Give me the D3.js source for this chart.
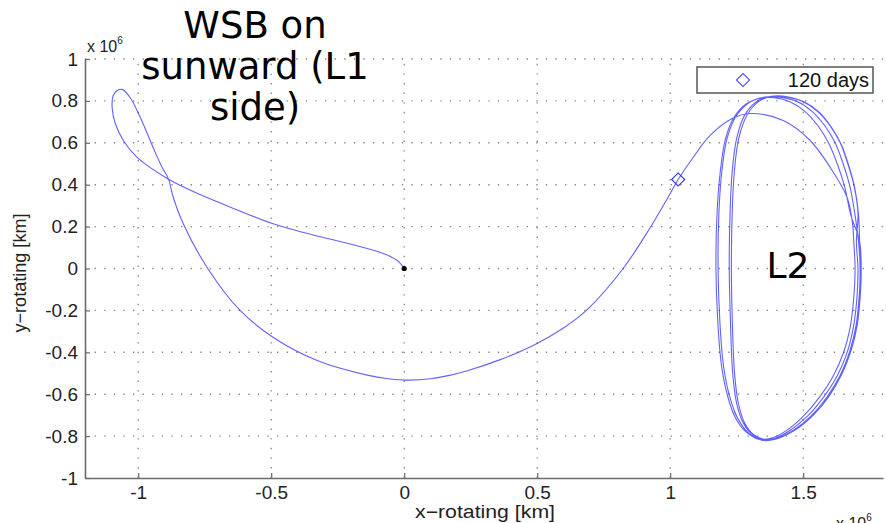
<!DOCTYPE html>
<html>
<head>
<meta charset="utf-8">
<script src="https://cdn.jsdelivr.net/npm/d3@7"></script>
<style>
  html, body { margin: 0; padding: 0; background: #fff; }
  svg { display: block; }
</style>
</head>
<body>
<svg id="chart" width="886" height="523"></svg>
<script>
// ---------------- data ----------------
const xTicks = [-1, -0.5, 0, 0.5, 1, 1.5];
const yTicks = [-1, -0.8, -0.6, -0.4, -0.2, 0, 0.2, 0.4, 0.6, 0.8, 1];
const xDomain = [-1.2, 1.8];
const yDomain = [-1, 1];

// transfer: origin -> loop on sunward side -> arc below -> toward L2 (units of 1e6 km)
const transferPath = [
  [0, 0], [-0.026, 0.038], [-0.079, 0.072], [-0.203, 0.117], [-0.327, 0.155],
  [-0.496, 0.215], [-0.632, 0.282], [-0.767, 0.353], [-0.891, 0.430],
  [-1.004, 0.530], [-1.056, 0.611], [-1.086, 0.692], [-1.098, 0.768],
  [-1.094, 0.826], [-1.079, 0.850], [-1.060, 0.855], [-1.030, 0.815],
  [-0.992, 0.721], [-0.944, 0.578], [-0.910, 0.482], [-0.887, 0.430],
  [-0.868, 0.339], [-0.831, 0.215], [-0.741, 0.005], [-0.617, -0.200],
  [-0.492, -0.329], [-0.327, -0.439], [-0.139, -0.509], [-0.060, -0.526],
  [0.020, -0.533], [0.100, -0.526], [0.170, -0.510], [0.237, -0.488],
  [0.361, -0.435], [0.485, -0.367], [0.590, -0.291],
  [0.688, -0.196], [0.823, 0.0],
  [0.925, 0.196], [1.0, 0.358], [1.03, 0.425], [1.086, 0.530],
  [1.150, 0.635], [1.233, 0.716], [1.301, 0.740], [1.425, 0.706],
  [1.526, 0.611], [1.602, 0.482], [1.665, 0.339], [1.685, 0.220]
];

// quasi-halo orbit laps around L2
const haloLap1 = [
  [1.690, 0.130], [1.695, 0.000], [1.690, -0.140], [1.678, -0.270], [1.652, -0.400],
  [1.612, -0.515], [1.558, -0.620], [1.498, -0.708], [1.435, -0.775], [1.378, -0.810],
  [1.330, -0.812], [1.285, -0.780], [1.245, -0.712], [1.215, -0.605], [1.193, -0.465],
  [1.179, -0.258], [1.172, 0.000], [1.176, 0.260], [1.188, 0.460], [1.208, 0.620],
  [1.240, 0.722], [1.288, 0.788], [1.340, 0.813], [1.392, 0.815], [1.452, 0.795],
  [1.508, 0.748], [1.556, 0.680], [1.595, 0.600], [1.628, 0.500], [1.656, 0.390],
  [1.678, 0.260]
];
const haloLap2 = [
  [1.712, 0.130], [1.718, 0.000], [1.714, -0.140], [1.703, -0.270], [1.680, -0.392],
  [1.645, -0.505], [1.598, -0.608], [1.540, -0.698], [1.474, -0.768], [1.410, -0.808],
  [1.358, -0.818], [1.312, -0.795], [1.275, -0.738], [1.250, -0.645], [1.235, -0.502],
  [1.227, -0.272], [1.222, 0.000], [1.225, 0.262], [1.233, 0.462], [1.250, 0.622],
  [1.280, 0.732], [1.326, 0.797], [1.380, 0.822], [1.432, 0.820], [1.498, 0.797],
  [1.556, 0.748], [1.604, 0.676], [1.640, 0.598], [1.668, 0.498], [1.692, 0.390],
  [1.706, 0.262]
];
const haloLap3 = [
  [1.700, 0.130], [1.706, 0.000], [1.702, -0.140], [1.690, -0.270], [1.666, -0.398],
  [1.628, -0.512], [1.576, -0.615], [1.516, -0.705], [1.450, -0.773], [1.392, -0.810],
  [1.342, -0.815], [1.296, -0.787], [1.256, -0.720], [1.224, -0.613], [1.201, -0.470],
  [1.187, -0.262], [1.180, 0.000], [1.183, 0.262], [1.194, 0.462], [1.214, 0.622],
  [1.248, 0.728], [1.300, 0.795], [1.356, 0.818], [1.410, 0.818], [1.475, 0.798],
  [1.533, 0.750], [1.582, 0.680], [1.620, 0.600], [1.650, 0.500], [1.676, 0.390],
  [1.694, 0.262]
];
const haloLap4 = [
  [1.708, 0.130], [1.714, 0.000], [1.710, -0.140], [1.699, -0.270], [1.676, -0.392],
  [1.640, -0.508], [1.590, -0.612], [1.531, -0.702], [1.466, -0.770], [1.406, -0.808],
  [1.356, -0.816], [1.313, -0.792], [1.279, -0.735], [1.256, -0.642], [1.242, -0.502],
  [1.234, -0.272], [1.230, 0.000], [1.233, 0.262], [1.241, 0.462], [1.258, 0.622],
  [1.289, 0.733], [1.336, 0.800], [1.390, 0.823], [1.440, 0.820], [1.505, 0.795],
  [1.562, 0.744], [1.608, 0.670], [1.644, 0.590], [1.671, 0.492], [1.694, 0.384],
  [1.708, 0.258]
];
const haloTail = [
  [1.712, 0.130], [1.716, 0.000], [1.711, -0.140], [1.699, -0.270], [1.674, -0.400],
  [1.636, -0.518], [1.584, -0.624], [1.522, -0.713], [1.455, -0.780], [1.395, -0.815],
  [1.345, -0.820], [1.302, -0.796], [1.266, -0.742], [1.240, -0.680]
];

const startPoint = [0, 0];
const marker120 = [1.03, 0.425];
const legendLabel = "120 days";
const titleLines = ["WSB on", "sunward (L1", "side)"];
const l2Label = "L2";
const xLabel = "x\u2212rotating [km]";
const yLabel = "y\u2212rotating [km]";

// ---------------- drawing ----------------
const svg = d3.select("#chart");
const plotL = 85, plotR = 883, plotT = 59, plotB = 478;

const x = d3.scaleLinear().domain(xDomain).range([plotL, plotR]);
const y = d3.scaleLinear().domain(yDomain).range([plotB, plotT]);

const fmt = d => String(d);   // MATLAB-style plain labels with hyphen minus
const tickFont = "'Liberation Sans', Arial, sans-serif";

// grid
const grid = svg.append("g").attr("stroke", "#8a8a8a").attr("stroke-width", 1.4)
  .attr("stroke-dasharray", "1.4 8.2").attr("fill", "none");
grid.selectAll("line.v").data(xTicks).join("line")
  .attr("x1", d => x(d)).attr("x2", d => x(d))
  .attr("y1", plotB).attr("y2", plotT);
grid.selectAll("line.h").data(yTicks.filter(d => d > yDomain[0])).join("line")
  .attr("y1", d => y(d)).attr("y2", d => y(d))
  .attr("x1", plotL).attr("x2", 886);

// axes
const yAxis = d3.axisLeft(y).tickValues(yTicks).tickFormat(fmt)
  .tickSizeInner(-5).tickSizeOuter(0).tickPadding(7);
const xAxis = d3.axisBottom(x).tickValues(xTicks).tickFormat(fmt)
  .tickSizeInner(-5).tickSizeOuter(0).tickPadding(8);

const gy = svg.append("g").attr("transform", `translate(${plotL},0)`).call(yAxis);
const gx = svg.append("g").attr("transform", `translate(0,${plotB})`).call(xAxis);
[gx, gy].forEach(g => {
  g.select(".domain").attr("stroke", "#6b6b6b").attr("stroke-width", 1.6);
  g.selectAll(".tick line").attr("stroke", "#6b6b6b").attr("stroke-width", 1.2);
  g.selectAll(".tick text").attr("fill", "#222").style("font-family", tickFont).style("font-size", "19px");
});

// exponent labels
const exp1 = svg.append("text").attr("x", 87).attr("y", 52)
  .style("font-family", tickFont).style("font-size", "16px").attr("fill", "#222");
exp1.append("tspan").text("x 10");
exp1.append("tspan").attr("dy", -8).style("font-size", "10px").text("6");

const exp2 = svg.append("text").attr("x", 836).attr("y", 529)
  .style("font-family", tickFont).style("font-size", "16px").attr("fill", "#222");
exp2.append("tspan").text("x 10");
exp2.append("tspan").attr("dy", -8).style("font-size", "10px").text("6");

// axis labels
svg.append("text").attr("x", 485).attr("y", 518).attr("text-anchor", "middle")
  .attr("textLength", 140).attr("lengthAdjust", "spacingAndGlyphs")
  .style("font-family", tickFont).style("font-size", "18px").attr("fill", "#222")
  .text(xLabel);
svg.append("text").attr("transform", "translate(26,273) rotate(-90)").attr("text-anchor", "middle")
  .attr("textLength", 119).attr("lengthAdjust", "spacingAndGlyphs")
  .style("font-family", tickFont).style("font-size", "18px").attr("fill", "#222")
  .text(yLabel);

// trajectory
const line = d3.line().x(d => x(d[0])).y(d => y(d[1])).curve(d3.curveCatmullRom.alpha(0.5));
const fullPath = [].concat(transferPath, haloLap1, haloLap2, haloLap3, haloLap4, haloTail);
svg.append("path").datum(fullPath)
  .attr("d", line)
  .attr("fill", "none")
  .attr("stroke", "#1f1fff")
  .attr("stroke-opacity", 0.7)
  .attr("stroke-width", 1.1)
  .attr("stroke-linejoin", "round");

// start point
svg.append("circle").attr("cx", x(startPoint[0])).attr("cy", y(startPoint[1])).attr("r", 2.6).attr("fill", "#000");

// 120-day marker
const diamond = d3.symbol().type(d3.symbolSquare).size(85);
svg.append("path").attr("d", diamond())
  .attr("transform", `translate(${x(marker120[0])},${y(marker120[1])}) rotate(45)`)
  .attr("fill", "none").attr("stroke", "#2a2aff").attr("stroke-width", 1.1);

// legend
const lg = svg.append("g");
lg.append("rect").attr("x", 697).attr("y", 67).attr("width", 176).attr("height", 26)
  .attr("fill", "#fff").attr("stroke", "#555").attr("stroke-width", 1.5);
lg.append("path").attr("d", diamond())
  .attr("transform", "translate(743,80) rotate(45)")
  .attr("fill", "none").attr("stroke", "#4a4aff").attr("stroke-width", 1.1);
lg.append("text").attr("x", 869).attr("y", 87).attr("text-anchor", "end")
  .style("font-family", tickFont).style("font-size", "20px").attr("fill", "#111")
  .text(legendLabel);

// annotations
const annFont = "'DejaVu Sans', Verdana, sans-serif";
svg.append("g").selectAll("text").data(titleLines).join("text")
  .attr("x", 255).attr("y", (d, i) => 38 + i * 41).attr("text-anchor", "middle")
  .style("font-family", annFont).style("font-size", "37px").attr("fill", "#000")
  .text(d => d);
svg.append("text").attr("x", 788).attr("y", 278).attr("text-anchor", "middle")
  .style("font-family", annFont).style("font-size", "36px").attr("fill", "#000")
  .text(l2Label);
</script>
</body>
</html>
